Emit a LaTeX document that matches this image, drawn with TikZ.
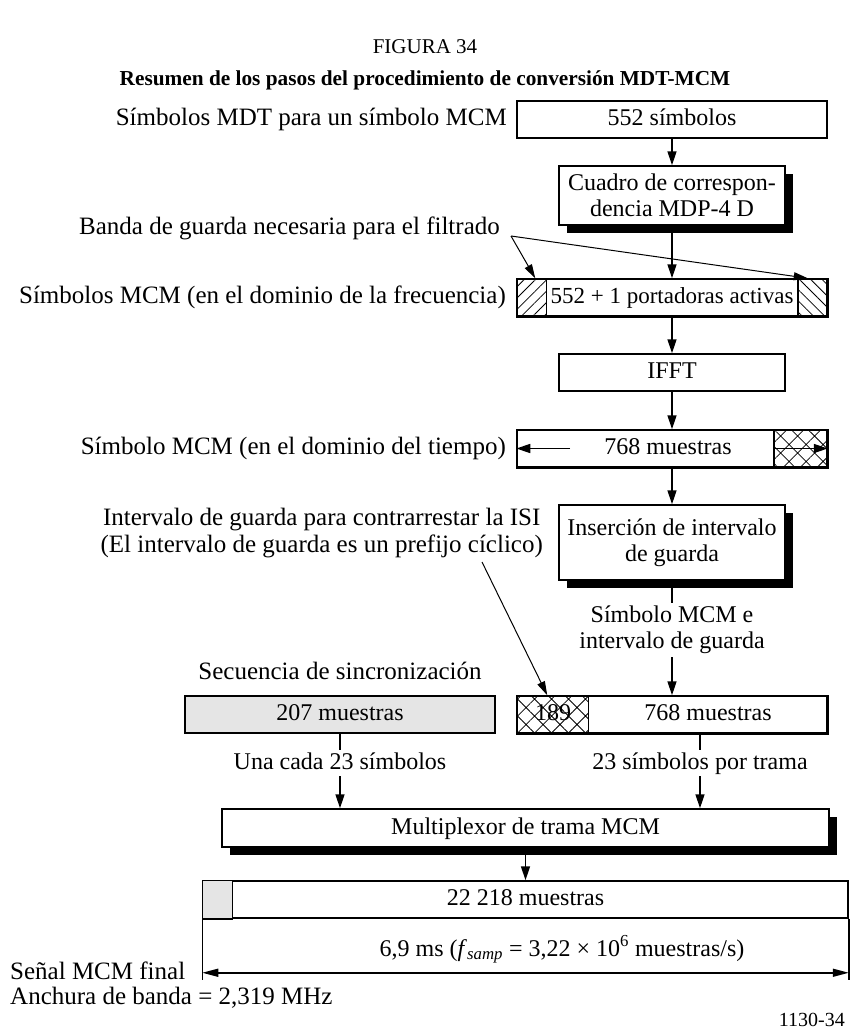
\documentclass[tikz,border=0pt]{standalone}
\usepackage{fontspec}
\setmainfont{Liberation Serif}
\usetikzlibrary{arrows.meta,patterns.meta,shadows,calc}
\begin{document}
\begin{tikzpicture}[x=1pt,y=-1pt,
  every node/.style={font=\fontsize{25}{27}\selectfont},
  bf/.style={font=\fontsize{24}{26}\selectfont},
  lbl/.style={inner sep=0pt},
  tdim/.style={text height=17pt, text depth=5pt},
  cl/.style={inner sep=2pt, bf, tdim},
  box/.style={draw, line width=1.5pt, fill=white, inner sep=0pt, bf},
  sbox/.style={box, drop shadow={shadow xshift=8pt, shadow yshift=-8pt, fill=black, opacity=1}},
  conn/.style={line width=1.5pt},
  arr/.style={line width=1.5pt, -{Triangle[length=14pt,width=9pt]}},
  tarr/.style={line width=1pt, -{Triangle[length=14pt,width=8pt]}},
  dimarr/.style={line width=1.5pt, {Triangle[length=16pt,width=8pt]}-{Triangle[length=16pt,width=8pt]}},
  sl/.style={pattern={Lines[angle=45,distance=8pt,line width=0.8pt]}},
  bsl/.style={pattern={Lines[angle=-45,distance=8pt,line width=0.8pt]}},
  xh/.style={pattern={Hatch[angle=45,distance=12pt,line width=0.8pt]}},
  wide/.style={minimum width=310pt, minimum height=37pt},
  narrow/.style={minimum width=226pt},
]
\useasboundingbox (0,0) rectangle (850,1030);

% titles
\node[lbl, font=\fontsize{21}{24}\selectfont] (fig) at (425,47) {FIGURA 34};
\node[lbl, font=\fontsize{21.3}{24}\selectfont\bfseries] (title) at (425,80) {Resumen de los pasos del procedimiento de conversión MDT-MCM};

% 552 simbolos
\node[box, wide, tdim] (b552) at (672,119.5) {552 símbolos};
\node[lbl, tdim, anchor=east] (l552) at (507,119.5) {Símbolos MDT para un símbolo MCM};

% Cuadro
\node[sbox, narrow, minimum height=59pt, align=center] (bcua) at (672,195.5) {Cuadro de correspon-\\dencia MDP-4 D};

% Banda de guarda
\node[lbl, tdim, anchor=east] (lband) at (500,228) {Banda de guarda necesaria para el filtrado};
\coordinate (bandO) at (511,236);

% portadoras
\node[box, wide, tdim, font=\fontsize{23}{25}\selectfont] (bport) at (672,297.5) {552 + 1 portadoras activas};
\path[sl] (bport.north west) rectangle ([xshift=30pt]bport.south west);
\path[bsl] ([xshift=-30pt]bport.north east) rectangle (bport.south east);
\draw[conn] ([xshift=30pt]bport.north west) -- ([xshift=30pt]bport.south west);
\draw[conn] ([xshift=-30pt]bport.north east) -- ([xshift=-30pt]bport.south east);
\draw[conn] (bport.north west) rectangle (bport.south east);
\node[lbl, tdim, anchor=east] (lport) at (506,297.5) {Símbolos MCM (en el dominio de la frecuencia)};

% IFFT
\node[box, narrow, tdim, minimum height=37pt] (bifft) at (672,372.5) {IFFT};

% 768 muestras
\node[box, wide] (b768) at (672,448.5) {};
\path[xh] ([xshift=-54pt]b768.north east) rectangle (b768.south east);
\draw[conn] ([xshift=-54pt]b768.north east) -- ([xshift=-54pt]b768.south east);
\draw[conn] (b768.north west) rectangle (b768.south east);
\node[lbl, bf, tdim] (t768) at (668,448.5) {768 muestras};
\coordinate (la768) at (570,448.5);
\draw[arr] (la768) -- (b768.west);
\draw[arr] ([xshift=-54pt]b768.east) -- (b768.east);
\node[lbl, tdim, anchor=east] (l768) at (506,448.5) {Símbolo MCM (en el dominio del tiempo)};

% Insercion
\node[sbox, narrow, minimum height=75pt, align=center] (bins) at (672,542.5) {Inserción de intervalo\\de guarda};
\node[lbl, align=center, anchor=east] (lisi) at (543,533) {Intervalo de guarda para contrarrestar la ISI\\(El intervalo de guarda es un prefijo cíclico)};
\coordinate (isiS) at (482,562);

\node[inner sep=3pt, bf, align=center] (lsym) at (672,630) {Símbolo MCM e\\intervalo de guarda};

% sync
\node[lbl, tdim] (lsync) at (340,673) {Secuencia de sincronización};
\node[box, wide, tdim, fill=gray!20] (b207) at (340,714.5) {207 muestras};
\node[box, wide] (b189) at (672,714.5) {};
\path[xh] (b189.north west) rectangle ([xshift=72pt]b189.south west);
\draw[conn] ([xshift=72pt]b189.north west) -- ([xshift=72pt]b189.south west);
\draw[conn] (b189.north west) rectangle (b189.south east);
\node[lbl, bf, tdim] (t189) at (553,714.5) {189};
\node[lbl, bf, tdim] (t768b) at (708,714.5) {768 muestras};

\node[cl] (luna) at (340,763) {Una cada 23 símbolos};
\node[cl] (l23) at (700,763) {23 símbolos por trama};

% multiplexor
\node[sbox, tdim, minimum width=607pt, minimum height=38pt] (bmux) at (525.5,828) {Multiplexor de trama MCM};

% final
\node[box, tdim, minimum width=645pt, minimum height=37pt] (b22) at (525.5,899.5) {22 218 muestras};
\draw[conn, fill=gray!20] (b22.north west) rectangle ([xshift=30pt]b22.south west);
\coordinate (dl) at ($(b22.south west)+(0,61)$);
\coordinate (dr) at ($(b22.south east)+(0,61)$);
\draw[conn] (b22.south west) -- (dl);
\draw[conn] (b22.south east) -- (dr);
\draw[dimarr] ([yshift=7pt]dl) -- ([yshift=7pt]dr);
\node[lbl, bf, tdim] (ldim) at (562,950) {6,9 ms (\textit{f}\textsubscript{\textit{samp}} = 3,22 × 10\textsuperscript{6} muestras/s)};

\node[lbl, tdim, anchor=west] (lsen) at (10,973) {Señal MCM final};
\node[lbl, tdim, anchor=west] (lanch) at (10,998) {Anchura de banda = 2,319 MHz};
\node[lbl, anchor=east, font=\fontsize{20}{22}\selectfont] (lnum) at (845,1020) {1130-34};

% connectors
\draw[arr] (b552.south) -- (bcua.north);
\draw[arr] (bcua.south) -- (bport.north);
\draw[tarr] (bandO) -- ([xshift=19pt]bport.north west);
\draw[tarr] (bandO) -- ([xshift=-20pt]bport.north east);
\draw[arr] (bport.south) -- (bifft.north);
\draw[arr] (bifft.south) -- (b768.north);
\draw[arr] (b768.south) -- (bins.north);
\draw[conn] (bins.south) -- (lsym.north);
\draw[arr] (lsym.south) -- (b189.north);
\draw[tarr] (isiS) -- ([xshift=31pt]b189.north west);
\draw[conn] (b207.south) -- (luna.north);
\draw[arr] (luna.south) -- (luna.south |- bmux.north);
\draw[conn] (l23 |- b189.south) -- (l23.north);
\draw[arr] (l23.south) -- (l23.south |- bmux.north);
\draw[arr] (bmux.south) -- (b22.north);
\end{tikzpicture}
\end{document}
